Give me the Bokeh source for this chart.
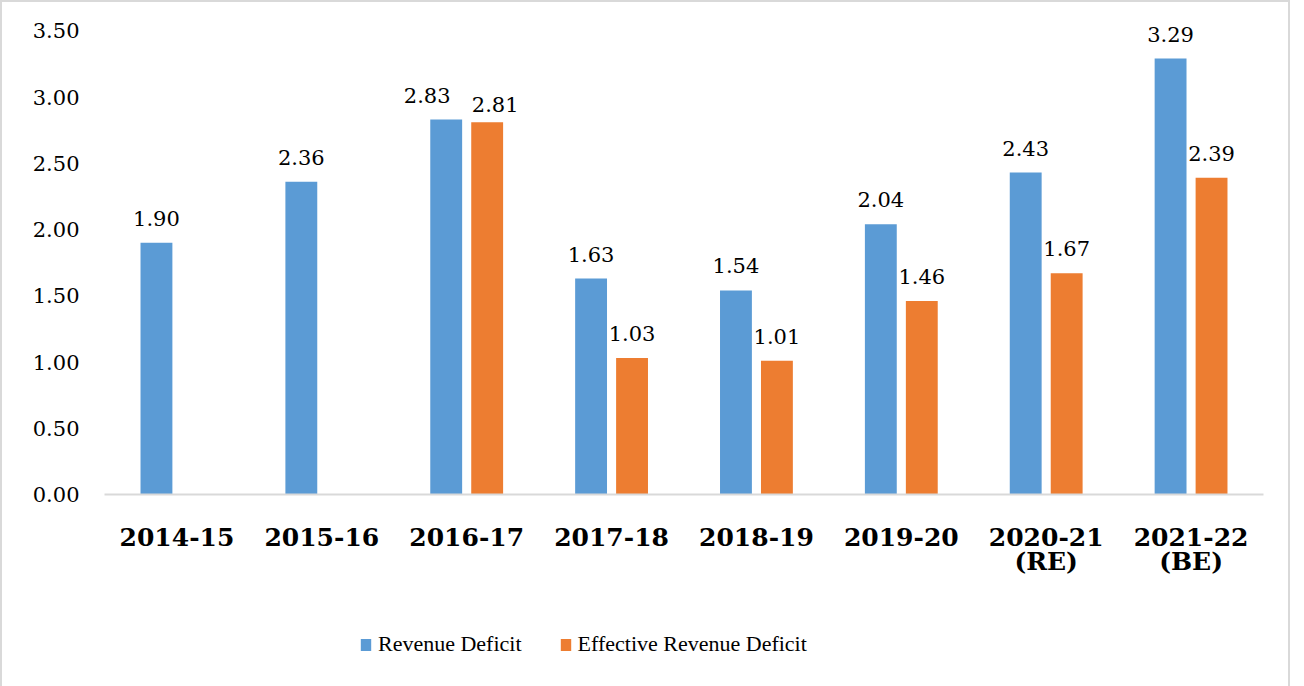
from bokeh.plotting import figure
from bokeh.layouts import column
from bokeh.models import (ColumnDataSource, FactorRange, Range1d, FixedTicker,
                          PrintfTickFormatter, Legend, LegendItem, LabelSet)
from bokeh.core.properties import value
from bokeh.transform import dodge
from bokeh.embed import file_html
from bokeh.resources import INLINE

# ---------------- data ----------------
categories = ["2014-15", "2015-16", "2016-17", "2017-18", "2018-19",
              "2019-20", "2020-21\n(RE)", "2021-22\n(BE)"]
revenue_deficit = [1.90, 2.36, 2.83, 1.63, 1.54, 2.04, 2.43, 3.29]
effective_revenue_deficit = [None, None, 2.81, 1.03, 1.01, 1.46, 1.67, 2.39]
y_ticks = [0, 0.5, 1.0, 1.5, 2.0, 2.5, 3.0, 3.5]
series_names = ["Revenue Deficit", "Effective Revenue Deficit"]

BLUE = "#5B9BD5"
ORANGE = "#ED7D31"
FONT = "DejaVu Serif"
W_FIG = 1286

erd_vals = [float("nan") if v is None else v for v in effective_revenue_deficit]
src = ColumnDataSource(dict(cat=categories, rd=revenue_deficit, erd=erd_vals))

# data labels; when the two labels of a group would collide (values close),
# nudge them apart like the spreadsheet does
close = [v is not None and abs(r - v) < 0.15
         for r, v in zip(revenue_deficit, effective_revenue_deficit)]
rd_lab = ColumnDataSource(dict(cat=categories, y=revenue_deficit,
                               t=[f"{v:.2f}" for v in revenue_deficit],
                               dx=[-19 if c else 0 for c in close],
                               dy=[17 for c in close]))
erd_idx = [i for i, v in enumerate(effective_revenue_deficit) if v is not None]
erd_lab = ColumnDataSource(dict(cat=[categories[i] for i in erd_idx],
                                y=[effective_revenue_deficit[i] for i in erd_idx],
                                t=[f"{effective_revenue_deficit[i]:.2f}" for i in erd_idx],
                                dx=[8 if close[i] else 0 for i in erd_idx],
                                dy=[10 if close[i] else 17 for i in erd_idx]))

# ---------------- main chart ----------------
p = figure(width=W_FIG, height=600, output_backend="svg", toolbar_location=None,
           x_range=FactorRange(*categories, range_padding=0),
           y_range=Range1d(0, 3.6),
           min_border_left=102, min_border_right=25, min_border_top=15,
           min_border_bottom=108)

OFF = 0.1414
W = 0.22
p.vbar(x=dodge("cat", -OFF, range=p.x_range), top="rd", width=W, source=src,
       fill_color=BLUE, line_color=None)
p.vbar(x=dodge("cat", OFF, range=p.x_range), top="erd", width=W, source=src,
       fill_color=ORANGE, line_color=None)

for s, off in ((rd_lab, -OFF), (erd_lab, OFF)):
    p.add_layout(LabelSet(x=dodge("cat", off, range=p.x_range), y="y", text="t",
                          source=s, text_align="center", text_baseline="alphabetic",
                          x_offset="dx", y_offset="dy",
                          text_font=value(FONT), text_font_size=value("21px"),
                          text_color="#000000"))

p.xgrid.visible = False
p.ygrid.visible = False
p.outline_line_color = None

p.yaxis.ticker = FixedTicker(ticks=y_ticks)
p.yaxis.formatter = PrintfTickFormatter(format="%.2f")
p.yaxis.axis_line_color = None
p.yaxis.major_tick_line_color = None
p.yaxis.minor_tick_line_color = None
p.yaxis.major_label_standoff = 19
p.yaxis.major_label_text_font = FONT
p.yaxis.major_label_text_font_size = "21px"
p.yaxis.major_label_text_color = "#000000"

p.xaxis.axis_line_color = "#d9d9d9"
p.xaxis.axis_line_width = 2
p.xaxis.major_tick_line_color = None
p.xaxis.minor_tick_line_color = None
p.xaxis.major_label_standoff = 22
p.xaxis.major_label_text_font = FONT
p.xaxis.major_label_text_font_style = "bold"
p.xaxis.major_label_text_font_size = "25px"
p.xaxis.major_label_text_line_height = 0.85
p.xaxis.major_label_text_color = "#000000"

# ---------------- legend strip ----------------
# same bar series, hidden renderers; only their legend swatches are shown
pl = figure(width=W_FIG, height=86, output_backend="svg", toolbar_location=None,
            x_range=FactorRange(*categories, range_padding=0),
            y_range=Range1d(-2, -1),
            min_border=0, x_axis_location=None, y_axis_location=None)
pl.xgrid.visible = False
pl.ygrid.visible = False
pl.outline_line_color = None
g1 = pl.vbar(x=dodge("cat", -OFF, range=pl.x_range), top="rd", width=W, source=src,
             fill_color=BLUE, line_color=None)
g2 = pl.vbar(x=dodge("cat", OFF, range=pl.x_range), top="erd", width=W, source=src,
             fill_color=ORANGE, line_color=None)
g1.visible = False
g2.visible = False

legend = Legend(items=[LegendItem(label=series_names[0], renderers=[g1]),
                       LegendItem(label=series_names[1], renderers=[g2])],
                orientation="horizontal", location=(255, 31),
                padding=0, margin=0, spacing=37, glyph_width=13, glyph_height=15,
                label_standoff=6, border_line_color=None, background_fill_alpha=0,
                inactive_fill_alpha=0,
                label_text_font="Liberation Serif",
                label_text_font_size="22px", label_text_color="#000000")
pl.add_layout(legend, "center")

layout = column(p, pl, spacing=0, styles={"border": "2px solid #d9d9d9"})

open("out.html", "w").write(file_html(layout, INLINE))
